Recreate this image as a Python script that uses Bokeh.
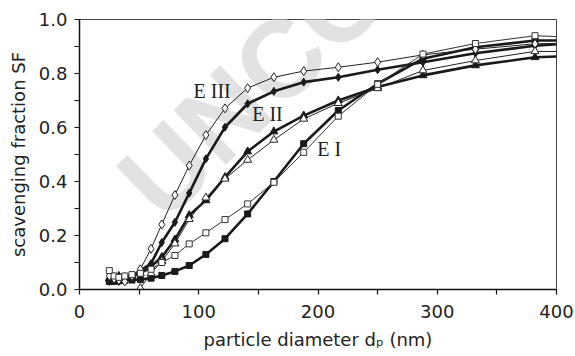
from bokeh.plotting import figure
from bokeh.models import Range1d, Label, FixedTicker, NumeralTickFormatter
from bokeh.embed import file_html
from bokeh.resources import INLINE

# particle diameter (nm); last point lies beyond the axis and is clipped
d_nm = [25, 29, 33, 38, 44, 51, 60, 69, 80, 92, 106, 122, 141, 163, 188, 217, 250, 288, 332, 382, 440]

e3_open = [0.05, 0.04, 0.035, 0.03, 0.05, 0.075, 0.151, 0.241, 0.35, 0.459, 0.572, 0.671, 0.746, 0.786,
           0.809, 0.823, 0.842, 0.869, 0.89, 0.91, 0.915]
e3_filled = [0.03, 0.035, 0.03, 0.04, 0.05, 0.07, 0.096, 0.174, 0.249, 0.357, 0.484, 0.601, 0.688, 0.734,
             0.768, 0.786, 0.814, 0.842, 0.875, 0.903, 0.92]
e2_filled = [0.04, 0.045, 0.05, 0.045, 0.05, 0.06, 0.085, 0.12, 0.185, 0.275, 0.33, 0.416, 0.511, 0.585,
             0.644, 0.70, 0.75, 0.793, 0.83, 0.86, 0.87]
d_e2_open = [51, 60, 69, 80, 92, 106, 122, 141, 163, 188, 217, 250, 288, 332, 382, 440]
e2_open = [0.005, 0.06, 0.105, 0.17, 0.26, 0.34, 0.41, 0.48, 0.554, 0.632, 0.69, 0.745, 0.811, 0.848,
           0.882, 0.88]
e1_open = [0.07, 0.05, 0.045, 0.05, 0.055, 0.06, 0.075, 0.10, 0.126, 0.169, 0.21, 0.259, 0.317, 0.397,
           0.508, 0.642, 0.76, 0.872, 0.911, 0.94, 0.93]
e1_filled = [0.03, 0.03, 0.032, 0.034, 0.035, 0.037, 0.042, 0.052, 0.067, 0.089, 0.13, 0.188, 0.28, 0.40,
             0.54, 0.663, 0.762, 0.855, 0.897, 0.922, 0.922]

x_ticks = [0, 100, 200, 300, 400]
y_ticks = [0.0, 0.2, 0.4, 0.6, 0.8, 1.0]

FONT = "DejaVu Sans"

p = figure(width=575, height=356, output_backend="svg", toolbar_location=None,
           x_range=Range1d(0, 400), y_range=Range1d(0, 1))
p.min_border_left = 79
p.min_border_right = 19
p.min_border_top = 19
p.min_border_bottom = 67
p.background_fill_color = "white"
p.border_fill_color = "white"
p.outline_line_color = "#444444"
p.outline_line_width = 1
p.xgrid.visible = False
p.ygrid.visible = False

# watermark
p.add_layout(Label(x=84, y=0.178, text="UNCORRECTED PROOF", angle=0.768,
                   text_font="Liberation Sans", text_font_style="bold",
                   text_font_size="110px", text_color="#e2e2e2", level="underlay"))

dark = "#1a1a1a"
# thick series
p.line(d_nm, e3_filled, line_color=dark, line_width=2.6)
p.scatter(d_nm, e3_filled, marker="diamond", size=8, fill_color=dark, line_color=dark)
p.line(d_nm, e2_filled, line_color=dark, line_width=2.6)
p.scatter(d_nm, e2_filled, marker="triangle", size=8, fill_color=dark, line_color=dark)
p.line(d_nm, e1_filled, line_color=dark, line_width=2.6)
p.scatter(d_nm, e1_filled, marker="square", size=6, fill_color=dark, line_color=dark)
# thin series
p.line(d_nm, e3_open, line_color="#222222", line_width=1)
p.scatter(d_nm, e3_open, marker="diamond", size=9, fill_color="white", line_color="#222222", line_width=1)
p.line(d_e2_open, e2_open, line_color="#222222", line_width=1)
p.scatter(d_e2_open, e2_open, marker="triangle", size=8, fill_color="white", line_color="#222222", line_width=1)
p.line(d_nm, e1_open, line_color="#333333", line_width=1)
p.scatter(d_nm, e1_open, marker="square", size=6, fill_color="white", line_color="#333333", line_width=1)

# curve labels
for txt, lx, ly in [("E III", 95.6, 0.737), ("E II", 144.8, 0.65), ("E I", 199.3, 0.522)]:
    p.add_layout(Label(x=lx, y=ly, text=txt, text_font="Liberation Serif", text_font_size="20px",
                       text_color="#222222", text_baseline="middle", text_align="left"))

# axes
for ax in (p.xaxis[0], p.yaxis[0]):
    ax.axis_line_color = "#111111"
    ax.axis_line_width = 1.5
    ax.major_tick_line_color = "#111111"
    ax.minor_tick_line_color = "#111111"
    ax.major_tick_line_width = 1.2
    ax.minor_tick_line_width = 1.2
    ax.major_tick_in = 0
    ax.major_tick_out = 5
    ax.minor_tick_in = 0
    ax.minor_tick_out = 5
    ax.major_label_text_font = FONT
    ax.major_label_text_font_size = "18px"
    ax.major_label_text_color = "#222222"
    ax.axis_label_text_font = FONT
    ax.axis_label_text_font_size = "18px"
    ax.axis_label_text_font_style = "normal"
    ax.axis_label_text_color = "#222222"

p.xaxis.ticker = FixedTicker(ticks=x_ticks, minor_ticks=[50, 150, 250, 350])
p.yaxis.ticker = FixedTicker(ticks=y_ticks, minor_ticks=[0.1, 0.3, 0.5, 0.7, 0.9])
p.yaxis.formatter = NumeralTickFormatter(format="0.0")
p.xaxis.major_label_standoff = 10
p.yaxis.major_label_standoff = 7
p.yaxis.axis_label = "scavenging fraction SF"
p.yaxis.axis_label_standoff = 7
p.xaxis.axis_label = "particle diameter d\u209a (nm)"
p.xaxis.axis_label_standoff = 8

open("out.html", "w").write(file_html(p, INLINE))
